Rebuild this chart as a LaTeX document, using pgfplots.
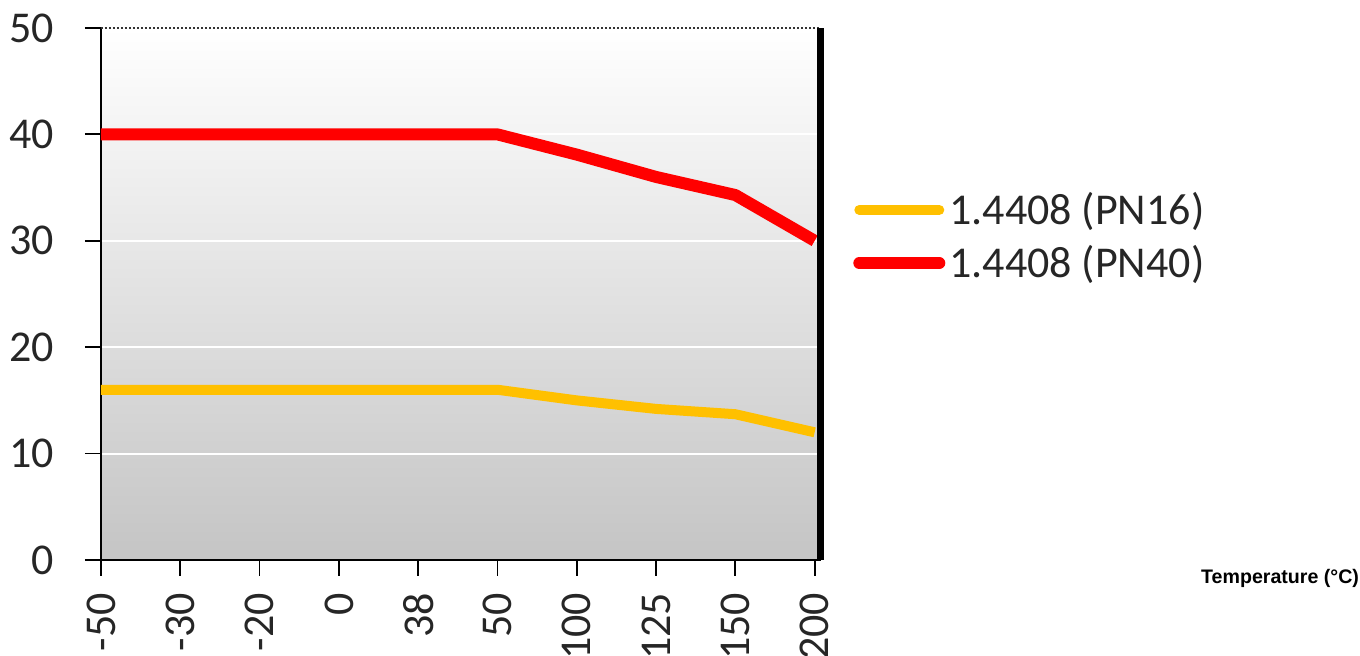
\documentclass[border=0pt]{standalone}
\usepackage{pgfplots}
\pgfplotsset{compat=1.18}
\usepackage{fontspec}
\setmainfont{Carlito}
\newfontfamily\arialfont{Liberation Sans}
\definecolor{pnyellow}{HTML}{FFC000}
\definecolor{pnred}{HTML}{FF0000}
\begin{document}
\begin{tikzpicture}
\begin{axis}[
  at={(0,0)}, anchor=south west,
  scale only axis,
  width=360pt, height=266pt,
  xmin=0, xmax=9.08, ymin=0, ymax=50,
  xtick={0,1,2,3,4,5,6,7,8,9},
  xticklabels={-50,-30,-20,0,38,50,100,125,150,200},
  ytick={0,10,20,30,40,50},
  axis x line=bottom, axis y line=left,
  axis line style={-, line width=1pt, black},
  tick align=outside,
  major tick length=8pt,
  tick style={line width=0.9pt, black},
  ymajorgrids,
  major grid style={white, line width=1pt},
  axis background/.style={top color=white, bottom color=black!23},
  /pgf/number format/assume math mode=true,
  ticklabel style={font=\fontsize{22}{26}\selectfont, text=black!85},
  xticklabel style={rotate=90, anchor=east, yshift=0pt, xshift=-5pt},
  yticklabel style={xshift=-12pt},
  xlabel={Temperature (°C)},
  xlabel style={at={(1.757,-0.034)}, anchor=east, font=\arialfont\bfseries\fontsize{9.8}{11}\selectfont},
  legend style={at={(1.036,0.608)}, anchor=west, draw=none, fill=none,
    font=\fontsize{22}{26}\selectfont, text=black!85, row sep=5pt},
  legend cell align=left,
  legend image code/.code={\draw[#1, line cap=round] (0pt,0pt) -- (40pt,0pt);},
  clip=false,
]
\addplot[pnyellow, line width=5pt, line join=round] coordinates {
 (0,16) (1,16) (2,16) (3,16) (4,16) (5,16) (6,15) (7,14.2) (8,13.7) (9,12)};
\addlegendentry{1.4408 (PN16)}
\addplot[pnred, line width=6pt, line join=round] coordinates {
 (0,40) (1,40) (2,40) (3,40) (4,40) (5,40) (6,38.1) (7,36) (8,34.3) (9,30)};
\addlegendentry{1.4408 (PN40)}
\draw[densely dotted, line width=1pt, black!80] (rel axis cs:0,1) -- (rel axis cs:1,1);
\draw[line width=3.5pt, black] (rel axis cs:1,0) -- (rel axis cs:1,1);
\end{axis}
\pgfresetboundingbox
\useasboundingbox (-50.5pt,-48pt) rectangle (629.5pt,280pt);
\end{tikzpicture}
\end{document}
